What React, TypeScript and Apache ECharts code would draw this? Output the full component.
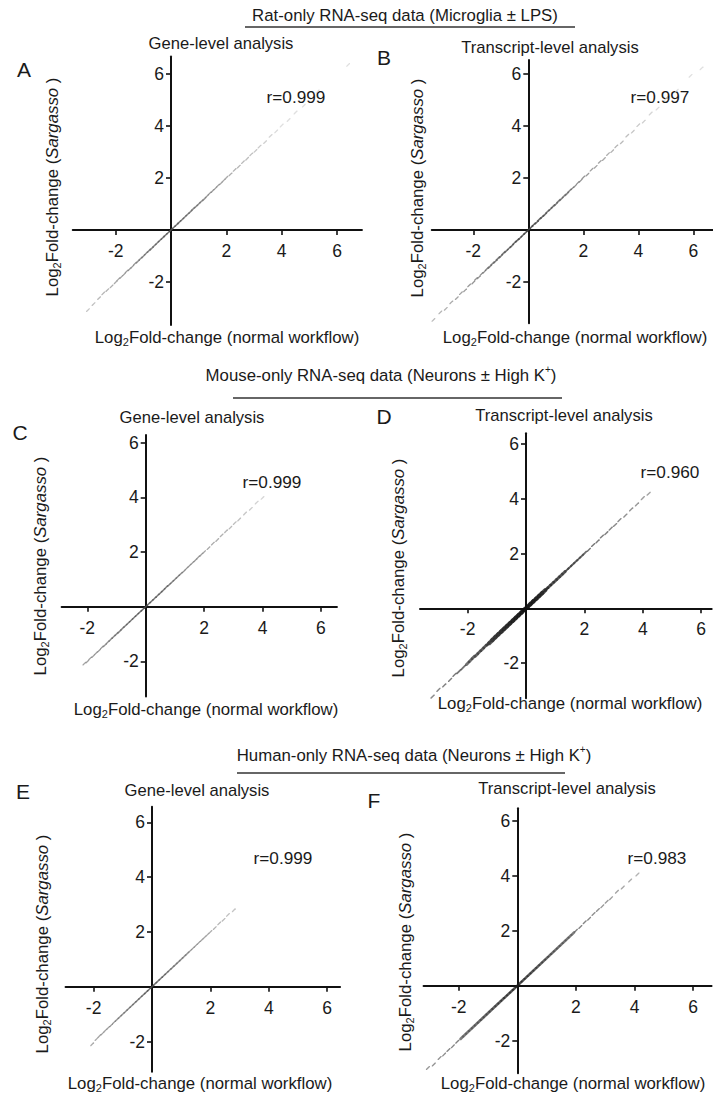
import React, { useEffect, useRef } from "react";
import * as echarts from "echarts";

const FONT = '"Liberation Sans", Arial, Helvetica, sans-serif';
const INK = "#1a1a1a";

// ---------- data ----------
const TICK_VALUES = [-2, 2, 4, 6];

const SECTION_TITLES = [
  "{n|Rat-only RNA-seq data (Microglia ± LPS)}",
  "{n|Mouse-only RNA-seq data (Neurons ± High K}{p|+}{n|)}",
  "{n|Human-only RNA-seq data (Neurons ± High K}{p|+}{n|)}",
];
const PANEL_LETTERS = ["A", "B", "C", "D", "E", "F"];
const PANEL_SUBTITLES = [
  "Gene-level analysis",
  "Transcript-level analysis",
  "Gene-level analysis",
  "Transcript-level analysis",
  "Gene-level analysis",
  "Transcript-level analysis",
];
const R_VALUES = ["0.999", "0.997", "0.999", "0.960", "0.999", "0.983"];

const A_X = [-3.0, -2.8, -2.6, -2.45, -2.3, -2.15, -2.0, -1.9, -1.8, -1.7, -1.6, -1.5, -1.4, -1.3, -1.2, -1.1, -1.0, -0.9, -0.8, -0.7, -0.6, -0.5, -0.4, -0.3, -0.2, -0.1, 0, 0.1, 0.2, 0.3, 0.4, 0.5, 0.6, 0.7, 0.8, 0.9, 1.0, 1.1, 1.2, 1.3, 1.4, 1.5, 1.6, 1.7, 1.8, 1.9, 2.0, 2.15, 2.3, 2.45, 2.6, 2.75, 2.9, 3.05, 3.2, 3.4, 3.6, 3.8, 4.0, 4.25, 4.5, 4.8, 5.3, 6.4];
const A_Y = [-3.08, -2.85, -2.62, -2.44, -2.31, -2.17, -2.01, -1.89, -1.81, -1.71, -1.59, -1.51, -1.41, -1.29, -1.21, -1.1, -1.01, -0.9, -0.8, -0.71, -0.6, -0.5, -0.4, -0.3, -0.2, -0.1, 0, 0.1, 0.2, 0.3, 0.4, 0.5, 0.6, 0.7, 0.81, 0.9, 1.0, 1.1, 1.19, 1.3, 1.41, 1.5, 1.6, 1.71, 1.79, 1.9, 2.01, 2.14, 2.31, 2.44, 2.61, 2.74, 2.91, 3.04, 3.21, 3.38, 3.62, 3.79, 4.02, 4.23, 4.52, 4.78, 5.33, 6.35];

const B_X = [-3.45, -3.2, -3.0, -2.8, -2.6, -2.45, -2.3, -2.15, -2.0, -1.9, -1.8, -1.7, -1.6, -1.5, -1.4, -1.3, -1.2, -1.1, -1.0, -0.9, -0.8, -0.7, -0.6, -0.5, -0.4, -0.3, -0.2, -0.1, 0, 0.1, 0.2, 0.3, 0.4, 0.5, 0.6, 0.7, 0.8, 0.9, 1.0, 1.1, 1.2, 1.3, 1.4, 1.5, 1.6, 1.7, 1.8, 1.9, 2.0, 2.15, 2.3, 2.45, 2.6, 2.75, 2.9, 3.05, 3.2, 3.4, 3.6, 3.8, 4.0, 4.2, 4.45, 4.7, 5.0, 5.4, 5.9, 6.3];
const B_Y = [-3.46, -3.17, -3.03, -2.78, -2.62, -2.43, -2.32, -2.13, -2.02, -1.88, -1.82, -1.69, -1.61, -1.49, -1.41, -1.29, -1.21, -1.09, -1.01, -0.89, -0.81, -0.7, -0.61, -0.49, -0.4, -0.31, -0.2, -0.1, 0, 0.1, 0.21, 0.29, 0.41, 0.5, 0.59, 0.71, 0.8, 0.91, 0.99, 1.11, 1.19, 1.31, 1.39, 1.51, 1.6, 1.69, 1.81, 1.89, 2.02, 2.13, 2.32, 2.43, 2.62, 2.73, 2.92, 3.03, 3.22, 3.37, 3.63, 3.78, 4.03, 4.17, 4.48, 4.67, 5.04, 5.36, 5.93, 6.22];

const C_X = [-2.1, -2.0, -1.9, -1.8, -1.7, -1.6, -1.5, -1.4, -1.3, -1.2, -1.1, -1.0, -0.9, -0.8, -0.7, -0.6, -0.5, -0.4, -0.3, -0.2, -0.1, 0, 0.1, 0.2, 0.3, 0.4, 0.5, 0.6, 0.7, 0.8, 0.9, 1.0, 1.1, 1.2, 1.3, 1.4, 1.5, 1.6, 1.7, 1.8, 1.9, 2.0, 2.15, 2.3, 2.45, 2.6, 2.75, 2.9, 3.05, 3.2, 3.4, 3.6, 3.8, 4.0];
const C_Y = [-2.08, -2.01, -1.89, -1.81, -1.7, -1.61, -1.49, -1.41, -1.3, -1.2, -1.1, -1.0, -0.91, -0.8, -0.7, -0.6, -0.5, -0.4, -0.3, -0.2, -0.1, 0, 0.1, 0.2, 0.3, 0.4, 0.5, 0.6, 0.71, 0.8, 0.9, 1.0, 1.1, 1.2, 1.29, 1.4, 1.5, 1.6, 1.7, 1.81, 1.9, 2.0, 2.14, 2.31, 2.44, 2.61, 2.76, 2.89, 3.06, 3.19, 3.41, 3.58, 3.81, 3.98];

const D_X = [-3.2, -3.0, -2.8, -2.6, -2.45, -2.3, -2.15, -2.0, -1.9, -1.8, -1.7, -1.6, -1.5, -1.4, -1.3, -1.2, -1.1, -1.0, -0.9, -0.8, -0.7, -0.6, -0.5, -0.4, -0.3, -0.2, -0.1, 0, 0.1, 0.2, 0.3, 0.4, 0.5, 0.6, 0.7, 0.8, 0.9, 1.0, 1.1, 1.2, 1.3, 1.4, 1.5, 1.6, 1.7, 1.8, 1.9, 2.0, 2.15, 2.3, 2.45, 2.6, 2.75, 2.9, 3.05, 3.2, 3.4, 3.6, 3.8, 4.0, 4.2];
const D_Y = [-3.22, -2.98, -2.81, -2.61, -2.43, -2.31, -2.16, -2.01, -1.9, -1.79, -1.71, -1.6, -1.5, -1.39, -1.3, -1.21, -1.1, -1.0, -0.9, -0.8, -0.7, -0.6, -0.5, -0.4, -0.3, -0.2, -0.1, 0, 0.1, 0.2, 0.3, 0.4, 0.5, 0.6, 0.7, 0.8, 0.9, 1.0, 1.1, 1.2, 1.3, 1.4, 1.5, 1.6, 1.7, 1.8, 1.9, 2.0, 2.13, 2.31, 2.44, 2.62, 2.74, 2.91, 3.04, 3.22, 3.38, 3.61, 3.79, 4.02, 4.18];

const E_X = [-2.05, -1.9, -1.8, -1.7, -1.6, -1.5, -1.4, -1.3, -1.2, -1.1, -1.0, -0.9, -0.8, -0.7, -0.6, -0.5, -0.4, -0.3, -0.2, -0.1, 0, 0.1, 0.2, 0.3, 0.4, 0.5, 0.6, 0.7, 0.8, 0.9, 1.0, 1.1, 1.2, 1.3, 1.4, 1.5, 1.6, 1.7, 1.8, 1.9, 2.0, 2.15, 2.3, 2.45, 2.6, 2.8];
const E_Y = [-2.1, -1.91, -1.8, -1.71, -1.6, -1.5, -1.41, -1.3, -1.2, -1.1, -1.0, -0.9, -0.8, -0.7, -0.6, -0.5, -0.4, -0.3, -0.2, -0.1, 0, 0.1, 0.2, 0.3, 0.4, 0.5, 0.6, 0.7, 0.8, 0.9, 1.0, 1.1, 1.2, 1.3, 1.4, 1.5, 1.6, 1.7, 1.8, 1.9, 2.0, 2.14, 2.31, 2.44, 2.62, 2.79];

const F_X = [-3.05, -2.85, -2.65, -2.5, -2.35, -2.2, -2.05, -1.9, -1.8, -1.7, -1.6, -1.5, -1.4, -1.3, -1.2, -1.1, -1.0, -0.9, -0.8, -0.7, -0.6, -0.5, -0.4, -0.3, -0.2, -0.1, 0, 0.1, 0.2, 0.3, 0.4, 0.5, 0.6, 0.7, 0.8, 0.9, 1.0, 1.1, 1.2, 1.3, 1.4, 1.5, 1.6, 1.7, 1.8, 1.9, 2.0, 2.15, 2.3, 2.45, 2.6, 2.75, 2.9, 3.05, 3.2, 3.4, 3.6, 3.85, 4.1];
const F_Y = [-3.0, -2.87, -2.63, -2.51, -2.34, -2.21, -2.04, -1.9, -1.8, -1.7, -1.6, -1.5, -1.4, -1.3, -1.2, -1.1, -1.0, -0.9, -0.8, -0.7, -0.6, -0.5, -0.4, -0.3, -0.2, -0.1, 0, 0.1, 0.2, 0.3, 0.4, 0.5, 0.6, 0.7, 0.8, 0.9, 1.0, 1.1, 1.2, 1.3, 1.4, 1.5, 1.6, 1.7, 1.8, 1.9, 2.0, 2.14, 2.31, 2.44, 2.61, 2.76, 2.89, 3.06, 3.19, 3.42, 3.58, 3.83, 4.05];

const PANEL_X = [A_X, B_X, C_X, D_X, E_X, F_X];
const PANEL_Y = [A_Y, B_Y, C_Y, D_Y, E_Y, F_Y];

// ---------- layout (pixels) ----------
const LAYOUT = [
  { x0: 171, y0: 230, sx: 27.67, sy: 26, xmin: -3.55, xmax: 6.9, ymin: -3.65, ymax: 6.67, letter: [24, 69], sub: [221, 43], r: [296, 97], xt: [227, 337], yt: [52, 187] },
  { x0: 528.3, y0: 230, sx: 27.5, sy: 26, xmin: -3.51, xmax: 6.7, ymin: -3.59, ymax: 6.54, letter: [384, 57], sub: [550, 47], r: [660, 97], xt: [575, 337], yt: [417, 188] },
  { x0: 145.7, y0: 606.7, sx: 29.2, sy: 27.33, xmin: -2.88, xmax: 6.55, ymin: -3.29, ymax: 6.28, letter: [20, 432], sub: [192, 417], r: [272, 482], xt: [206, 709], yt: [40, 566] },
  { x0: 526, y0: 608.3, sx: 29.2, sy: 27.4, xmin: -3.63, xmax: 6.36, ymin: -3.28, ymax: 6.39, letter: [384, 416], sub: [564, 415], r: [670, 472], xt: [570, 703], yt: [398, 568] },
  { x0: 152, y0: 986.7, sx: 29.2, sy: 27.4, xmin: -2.96, xmax: 6.44, ymin: -3.1, ymax: 6.57, letter: [23, 791], sub: [197, 790], r: [283, 858], xt: [200, 1083], yt: [42, 944] },
  { x0: 517.3, y0: 985.7, sx: 29.3, sy: 27.45, xmin: -3.2, xmax: 6.63, ymin: -3.19, ymax: 6.46, letter: [374, 800], sub: [567, 788], r: [657, 858], xt: [573, 1083], yt: [405, 942] },
];

// mark look: grey at origin, grey gain per unit, lightest grey,
// tiers of [lo, hi, size, thick] checked in order, then the outer size
const MARK_STYLE = [
  { g0: 80, gain: 34, gmax: 215, outer: 3.8, tiers: [[-1.2, 1.2, 4.4, false]] },
  { g0: 60, gain: 32, gmax: 215, outer: 3.8, tiers: [[-1.5, 1.5, 4.6, false]] },
  { g0: 75, gain: 32, gmax: 215, outer: 3.8, tiers: [[-1.2, 1.2, 4.4, false]] },
  { g0: 15, gain: 30, gmax: 200, outer: 4.2, tiers: [[-1.2, 0.6, 7.4, true], [-2.0, 1.3, 5.2, true], [-2.4, 2.0, 5.4, false]] },
  { g0: 80, gain: 36, gmax: 220, outer: 3.8, tiers: [[-1.2, 1.2, 4.4, false]] },
  { g0: 30, gain: 32, gmax: 205, outer: 4.0, tiers: [[-1.9, 1.9, 4.6, true]] },
];

// thin / thick diagonal bands; chained marks read as a continuous line
const SEGMENT = "path://M0,10 L0,7.6 L7.6,0 L10,0 L10,2.4 L2.4,10 Z";
const SEGMENT_THICK = "path://M0,10 L0,6 L6,0 L10,0 L10,4 L4,10 Z";

const SECTIONS = [
  { cx: 405, cy: 15, x1: 245, x2: 575, ly: 27 },
  { cx: 381, cy: 375, x1: 233, x2: 562, ly: 398 },
  { cx: 414, cy: 755, x1: 237, x2: 565, ly: 773 },
];

function rich(size: number) {
  return {
    n: { fontSize: size, fontFamily: FONT, fill: INK, lineHeight: size + 4 },
    i: { fontSize: size, fontFamily: FONT, fontStyle: "italic", fill: INK, lineHeight: size + 4 },
    s: { fontSize: Math.round(size * 0.68), fontFamily: FONT, fill: INK, lineHeight: Math.round(size * 0.7), verticalAlign: "bottom" },
    p: { fontSize: Math.round(size * 0.62), fontFamily: FONT, fill: INK, lineHeight: Math.round(size * 0.6), verticalAlign: "top" },
  };
}

function richText(text: string, x: number, y: number, size: number, rotation = 0) {
  return {
    type: "text",
    x,
    y,
    rotation,
    silent: true,
    style: {
      text,
      fill: INK,
      fontSize: size,
      fontFamily: FONT,
      align: "center",
      verticalAlign: "middle",
      rich: rich(size),
    },
  };
}

function plainText(text: string, x: number, y: number, size: number) {
  return {
    type: "text",
    x,
    y,
    silent: true,
    style: { text, fill: INK, fontSize: size, fontFamily: FONT, align: "center", verticalAlign: "middle" },
  };
}

function buildOption() {
  const grid: any[] = [];
  const xAxis: any[] = [];
  const yAxis: any[] = [];
  const series: any[] = [];
  const graphic: any[] = [];

  LAYOUT.forEach((L, i) => {
    grid.push({
      left: L.x0 + L.xmin * L.sx,
      top: L.y0 - L.ymax * L.sy,
      width: (L.xmax - L.xmin) * L.sx,
      height: (L.ymax - L.ymin) * L.sy,
      containLabel: false,
    });
    const axisCommon = {
      type: "value",
      gridIndex: i,
      splitLine: { show: false },
      axisLine: { show: true, onZero: false, lineStyle: { color: "#111", width: 2 } },
      axisTick: { show: true, inside: false, length: 5, customValues: TICK_VALUES, lineStyle: { color: "#111", width: 1.6 } },
    };
    // axes crossing at the data origin: shift each from the grid edge by the distance to zero
    xAxis.push({
      ...axisCommon,
      position: "bottom",
      offset: L.ymin * L.sy,
      min: L.xmin,
      max: L.xmax,
      axisLabel: { customValues: TICK_VALUES, fontSize: 17.5, fontFamily: FONT, color: INK, margin: 12 },
    });
    yAxis.push({
      ...axisCommon,
      position: "left",
      offset: L.xmin * L.sx,
      min: L.ymin,
      max: L.ymax,
      axisLabel: { customValues: TICK_VALUES, fontSize: 17.5, fontFamily: FONT, color: INK, margin: 7 },
    });

    const xs = PANEL_X[i];
    const ys = PANEL_Y[i];
    const n = Math.min(xs.length, ys.length);
    const data: number[][] = [];
    for (let k = 0; k < n; k++) data.push([xs[k], ys[k]]);
    const M = MARK_STYLE[i];
    const tierOf = (x: number): any[] | null => {
      for (const t of M.tiers) if (x >= (t[0] as number) && x <= (t[1] as number)) return t;
      return null;
    };
    series.push({
      type: "scatter",
      xAxisIndex: i,
      yAxisIndex: i,
      data,
      silent: true,
      symbol: (v: number[]) => {
        const t = tierOf(v[0]);
        return t && t[3] ? SEGMENT_THICK : SEGMENT;
      },
      symbolKeepAspect: false,
      symbolSize: (v: number[]) => {
        const t = tierOf(v[0]);
        const s = t ? (t[2] as number) : M.outer;
        return [s, s];
      },
      itemStyle: {
        color: (p: any) => {
          const g = Math.round(Math.min(M.gmax, M.g0 + M.gain * Math.abs(p.value[0])));
          return `rgb(${g},${g},${g})`;
        },
      },
    });

    graphic.push(plainText(PANEL_LETTERS[i], L.letter[0], L.letter[1], 21));
    graphic.push(plainText(PANEL_SUBTITLES[i], L.sub[0], L.sub[1], 16.6));
    graphic.push(plainText("r=" + R_VALUES[i], L.r[0], L.r[1], 17.2));
    graphic.push(richText("{n|Log}{s|2}{n|Fold-change (normal workflow)}", L.xt[0], L.xt[1], 16.8));
    graphic.push(richText("{n|Log}{s|2}{n|Fold-change (}{i|Sargasso}{n| )}", L.yt[0], L.yt[1], 16.8, Math.PI / 2));
  });

  SECTIONS.forEach((s, j) => {
    graphic.push(richText(SECTION_TITLES[j], s.cx, s.cy, 16.8));
    graphic.push({
      type: "line",
      silent: true,
      shape: { x1: s.x1, y1: s.ly, x2: s.x2, y2: s.ly },
      style: { stroke: "#333", lineWidth: 1.5 },
    });
  });

  return {
    animation: false,
    backgroundColor: "#ffffff",
    grid,
    xAxis,
    yAxis,
    series,
    graphic,
  };
}

export default function App() {
  const ref = useRef<HTMLDivElement>(null);
  useEffect(() => {
    if (!ref.current) return;
    const chart = echarts.init(ref.current, undefined, { renderer: "svg" });
    chart.setOption(buildOption() as any);
    return () => chart.dispose();
  }, []);
  return (
    <div
      ref={ref}
      style={{ position: "absolute", left: 0, top: 0, width: 713, height: 1097, background: "#fff" }}
    />
  );
}
